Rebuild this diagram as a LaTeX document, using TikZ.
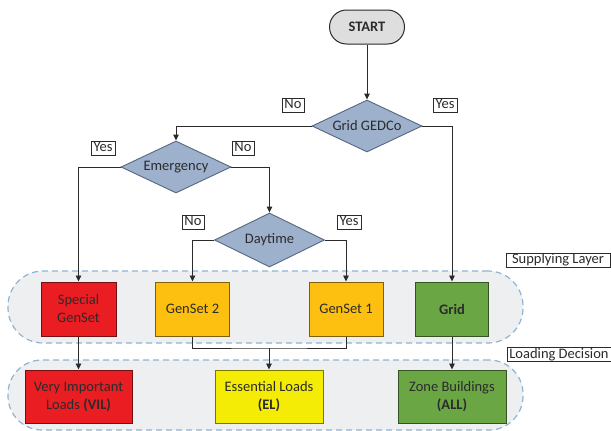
\documentclass[tikz,border=0pt]{standalone}
\usepackage{fontspec}
\setmainfont{Carlito}
\usetikzlibrary{shapes.geometric,arrows.meta}
\definecolor{decblue}{HTML}{9DB1CD}
\definecolor{decedge}{HTML}{55677F}
\definecolor{startgray}{HTML}{DEDEDE}
\definecolor{vilred}{HTML}{EA1D22}
\definecolor{genorange}{HTML}{FDC010}
\definecolor{gridgreen}{HTML}{6AA744}
\definecolor{elyellow}{HTML}{F4EC05}
\definecolor{layerfill}{HTML}{EEEFF1}
\definecolor{layeredge}{HTML}{8DB4D4}
\definecolor{inkgray}{HTML}{2B2B2B}
\tikzset{
  conn/.style={draw=inkgray, line width=0.9pt},
  arr/.style={conn, -{Triangle[length=6pt,width=5.5pt]}},
  decision/.style={diamond, draw=decedge, line width=0.9pt, fill=decblue, aspect=2,
    inner sep=0pt, minimum width=110pt, minimum height=52pt},
  block/.style={rectangle, draw=#1!50!black, fill=#1, line width=1pt,
    minimum height=54pt, align=center},
  tag/.style={draw=inkgray, fill=white, line width=0.6pt, inner xsep=2.5pt,
    inner ysep=1pt, text height=9.5pt, text depth=2.5pt},
  layer/.style={draw=layeredge, fill=layerfill, line width=1.2pt,
    dash pattern=on 6pt off 4pt, minimum width=515pt}
}
\begin{document}
\begin{tikzpicture}[x=1pt,y=-1pt,font=\fontsize{14.5}{18}\selectfont,text=inkgray]
\useasboundingbox (0,0) rectangle (611,431);
% layers
\node[layer, rounded corners=35pt, minimum height=72pt] (supply) at (265.5,307) {};
\node[layer, rounded corners=34pt, minimum height=70pt] (loads) at (265.5,395) {};
\node[tag, minimum width=104pt] (supplytag) at (558,260) {Supplying Layer};
\node[tag, minimum width=104pt] (loadtag) at (559,354.5) {Loading Decision};
% decisions
\node[draw=inkgray, fill=startgray, line width=1pt, rounded corners=17pt,
  minimum width=75pt, minimum height=34pt, font=\fontsize{14.5}{18}\selectfont\bfseries]
  (start) at (367,27) {START};
\node[decision] (gedco) at (367,126) {Grid GEDCo};
\node[decision] (emerg) at (176,167) {Emergency};
\node[decision, minimum height=54pt] (daytime) at (269.5,240) {Daytime};
\node[tag] (no1) at (293,105) {No};
\node[tag] (yes1) at (445,105) {Yes};
\node[tag] (yes2) at (103,148) {Yes};
\node[tag] (no2) at (243,148) {No};
\node[tag] (no3) at (193,222) {No};
\node[tag] (yes3) at (349,222) {Yes};
% sources
\node[block=vilred, minimum width=75pt] (special) at (78.5,309) {Special\\GenSet};
\node[block=genorange, minimum width=74pt] (gen2) at (192.5,309) {GenSet 2};
\node[block=genorange, minimum width=74pt] (gen1) at (346,309) {GenSet 1};
\node[block=gridgreen, minimum width=73pt, font=\fontsize{14.5}{18}\selectfont\bfseries] (grid) at (452,309) {Grid};
% loads
\node[block=vilred, minimum width=107pt, minimum height=53pt] (vil) at (78.5,396.5) {Very Important\\Loads \textbf{(VIL)}};
\node[block=elyellow, minimum width=108pt, minimum height=53pt] (el) at (269,396.5) {Essential Loads\\\textbf{(EL)}};
\node[block=gridgreen, minimum width=108pt, minimum height=53pt] (zone) at (452,396.5) {Zone Buildings\\\textbf{(ALL)}};
% connectors
\draw[arr] (start) -- (gedco);
\draw[arr] (gedco.west) -| (emerg.north);
\draw[arr] (gedco.east) -| (grid.north);
\draw[arr] (emerg.west) -| (special.north);
\draw[arr] (emerg.east) -| (daytime.north);
\draw[arr] (daytime.west) -| (gen2.north);
\draw[arr] (daytime.east) -| (gen1.north);
\coordinate (join) at (269,348);
\draw[conn] (gen2.south) |- (join) -| (gen1.south);
\draw[arr] (join) -- (el.north);
\draw[arr] (special) -- (vil);
\draw[arr] (grid) -- (zone);
\end{tikzpicture}
\end{document}
